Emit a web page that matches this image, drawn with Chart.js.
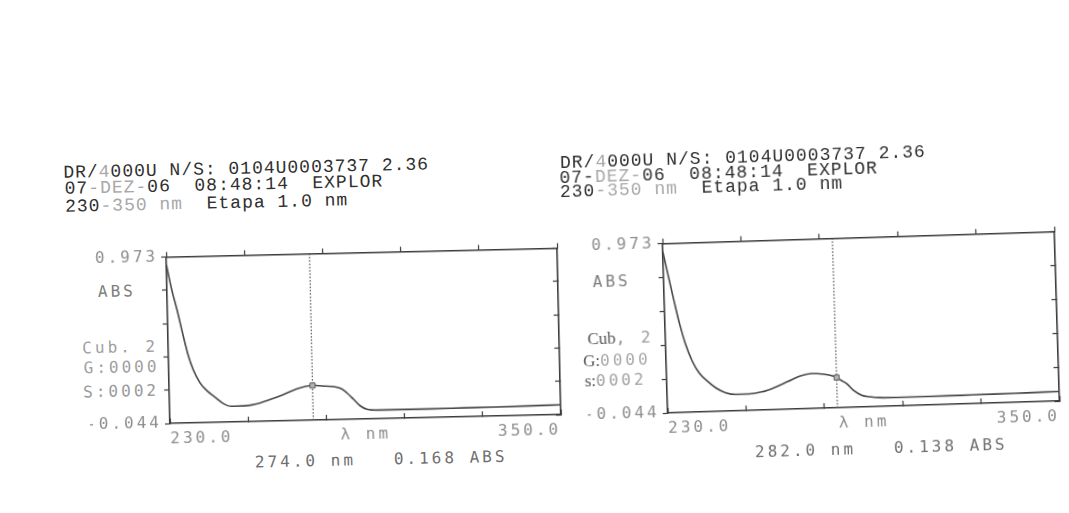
<!DOCTYPE html>
<html>
<head>
<meta charset="utf-8">
<script src="https://cdn.jsdelivr.net/npm/chart.js@4"></script>
<style>
  html, body { margin: 0; padding: 0; background: #ffffff; }
  body { width: 1069px; height: 513px; position: relative; overflow: hidden; }
  .panel { position: absolute; left: 0; top: 0; width: 1069px; height: 513px; }
  .panel canvas { position: absolute; }
  .hdr { position: absolute; font-family: 'Liberation Mono', 'DejaVu Sans Mono', monospace; font-size: 18px;
         letter-spacing: 1px; line-height: 17px; color: #2f2f2f; white-space: pre; }
  .lt { color: #a8a8a8; }
  .lab { position: absolute; font-family: 'DejaVu Sans Mono', monospace; font-size: 16px; letter-spacing: 3px;
         line-height: 20px; color: #8d8d8d; white-space: pre; }
  .ser { font-family: 'Liberation Serif', 'DejaVu Serif', serif; color: #555; letter-spacing: 0; font-size: 17px; }
  .read { color: #6f6f6f; }
</style>
</head>
<body>

<div class="panel" id="panelA" style="transform-origin: 364px 334px; transform: rotate(-1.3deg);">
  <div class="hdr" style="left:67px; top:158px;">DR/<span class="lt">4</span>000U N/S: 0104U0003737 2.36</div>
  <div class="hdr" style="left:68px; top:174px;">07<span class="lt">-DEZ-</span>06  08:48:14  EXPLOR</div>
  <div class="hdr" style="left:68px; top:192px;">230<span class="lt">-350 nm</span>  Etapa 1.0 nm</div>
  <div class="lab" style="left:99px; top:276px; color:#7d7d7d;">ABS</div>
  <div class="lab" style="left:82px; top:332px; color:#a0a0a0;">Cub. 2</div>
  <div class="lab" style="left:83px; top:352px; color:#a0a0a0;">G:0000</div>
  <div class="lab" style="left:82px; top:376px; color:#9a9a9a;">S:0002</div>
  <div class="lab read" id="readA" style="left:252px; top:450px;"></div>
  <canvas id="chartA" width="482" height="219" style="left:88px; top:240px;"></canvas>
</div>

<div class="panel" id="panelB" style="transform-origin: 861px 321px; transform: rotate(-1.75deg);">
  <div class="hdr" style="left:565px; top:146px;">DR/<span class="lt">4</span>000U N/S: 0104U0003737 2.36</div>
  <div class="hdr" style="left:564px; top:161px;">07-<span class="lt">DEZ-</span>06  08:48:14  EXPLOR</div>
  <div class="hdr" style="left:564px; top:175px;">230<span class="lt">-350 nm</span>  Etapa 1.0 nm</div>
  <div class="lab" style="left:594px; top:264px; color:#7d7d7d;">ABS</div>
  <div class="lab" style="left:587px; top:321px;"><span class="ser">Cub</span>, <span style="color:#9a9a9a">2</span></div>
  <div class="lab" style="left:582px; top:343px;"><span class="ser">G:</span><span style="color:#a8a8a8">0000</span></div>
  <div class="lab" style="left:583px; top:363px;"><span class="ser">s:</span><span style="color:#a0a0a0">0002</span></div>
  <div class="lab read" id="readB" style="left:751px; top:439px;"></div>
  <canvas id="chartB" width="483" height="222" style="left:585px; top:225px;"></canvas>
</div>

<script>
// ---------- data ----------
const yMin = -0.044;
const yMax = 0.973;
const yTickValues = [-0.044, 0.1594, 0.3628, 0.5662, 0.7696, 0.973];
const yTickLabels = ['-0.044', '', '', '', '', '0.973'];
const xMin = 230;
const xMax = 350;
const xTickValues = [230, 254, 278, 290, 302, 326, 350];
const xTickLabels = ['230.0', '', '', 'λ nm', '', '', '350.0'];
const topTickValues = [230, 254, 278, 302, 326, 350];

// left scan (sample A)
const lambdaA = [230, 231.5, 233, 234.5, 236, 237.5, 239.5, 241.5, 244, 246.5, 249, 253, 257, 261, 265, 269, 272, 274,
                 278, 281, 283, 284.5, 286.5, 288.5, 290.5, 294, 300, 310, 320, 330, 340, 350];
const absA    = [0.925, 0.77, 0.645, 0.505, 0.375, 0.281, 0.200, 0.152, 0.110, 0.070, 0.052, 0.053, 0.065, 0.089, 0.117, 0.148, 0.164, 0.168,
                 0.162, 0.156, 0.142, 0.118, 0.078, 0.037, 0.016, 0.009, 0.009, 0.009, 0.010, 0.011, 0.013, 0.016];
const markerNmA = 274.0;
const markerAbsA = 0.168;

// right scan (sample B)
const lambdaB = [230, 231.5, 233, 234.5, 236, 238, 240, 242.5, 245, 248, 251, 255, 259, 263, 267, 271, 274.5, 278, 281, 282,
                 283.5, 285, 287, 289.5, 292, 295, 300, 310, 320, 330, 340, 350];
const absB    = [0.925, 0.773, 0.625, 0.485, 0.372, 0.262, 0.190, 0.138, 0.097, 0.066, 0.055, 0.055, 0.065, 0.090, 0.122, 0.154, 0.166, 0.160, 0.147, 0.138,
                 0.118, 0.100, 0.059, 0.027, 0.016, 0.009, 0.007, 0.007, 0.008, 0.009, 0.011, 0.013];
const markerNmB = 282.0;
const markerAbsB = 0.138;

// ---------- chart construction ----------
const INK = '#3b3b3b';
const LABEL_GREY = '#8d8d8d';
const tickFont = { family: "'DejaVu Sans Mono', monospace", size: 16 };

const spacingPlugin = {
  id: 'spacing',
  beforeDraw(chart) { chart.ctx.letterSpacing = '3px'; }
};

function setTicks(values) {
  return function (scale) { scale.ticks = values.map(v => ({ value: v })); };
}

function makeChart(id, lambdas, abs, markerNm, markerAbs, plotBottomPad) {
  const curve = lambdas.map((x, i) => ({ x: x, y: abs[i] }));
  return new Chart(document.getElementById(id), {
    type: 'line',
    data: {
      datasets: [
        { data: curve, borderColor: '#474747', borderWidth: 1.6, pointRadius: 0,
          cubicInterpolationMode: 'monotone', xAxisID: 'x', yAxisID: 'y', order: 2 },
        { data: [{ x: markerNm, y: yMin }, { x: markerNm, y: yMax }], borderColor: '#505050', borderWidth: 1.2,
          borderDash: [1.5, 1.8], pointRadius: 0, xAxisID: 'x', yAxisID: 'y', order: 3 },
        { data: [{ x: markerNm, y: markerAbs }], showLine: false, pointStyle: 'rect', pointRadius: 3.6,
          pointBackgroundColor: '#b5b5b5', pointBorderColor: '#5a5a5a', pointBorderWidth: 1,
          xAxisID: 'x', yAxisID: 'y', order: 1 }
      ]
    },
    options: {
      responsive: false,
      animation: false,
      devicePixelRatio: 1,
      layout: { padding: 0 },
      plugins: { legend: { display: false }, tooltip: { enabled: false } },
      events: [],
      scales: {
        x: {
          type: 'linear', position: 'bottom', min: xMin, max: xMax,
          afterBuildTicks: setTicks(xTickValues),
          afterFit(s) { s.height = 40; },
          ticks: { autoSkip: false, maxRotation: 0, align: 'inner', padding: plotBottomPad,
                   color: LABEL_GREY, font: tickFont, callback: (v, i) => xTickLabels[i] },
          grid: { drawOnChartArea: false, drawTicks: true, tickLength: -5, tickWidth: 1.2,
                  tickColor: (c) => (c.tick && c.tick.value === 290) ? 'rgba(0,0,0,0)' : INK },
          border: { display: true, color: INK, width: 1.6 }
        },
        x2: {
          type: 'linear', position: 'top', min: xMin, max: xMax,
          afterBuildTicks: setTicks(topTickValues),
          afterFit(s) { s.height = 10; },
          ticks: { display: false },
          grid: { drawOnChartArea: false, drawTicks: true, tickLength: 5, tickWidth: 1.2, tickColor: INK },
          border: { display: true, color: INK, width: 1.6 }
        },
        y: {
          type: 'linear', position: 'left', min: yMin, max: yMax,
          afterBuildTicks: setTicks(yTickValues),
          afterFit(s) { s.width = 80; },
          ticks: { autoSkip: false, padding: 3, color: LABEL_GREY, font: tickFont,
                   callback: (v, i) => yTickLabels[i] },
          grid: { drawOnChartArea: false, drawTicks: true, tickLength: 5, tickWidth: 1.2, tickColor: INK },
          border: { display: true, color: INK, width: 1.6 }
        },
        y2: {
          type: 'linear', position: 'right', min: yMin, max: yMax,
          afterBuildTicks: setTicks(yTickValues),
          afterFit(s) { s.width = 10; },
          ticks: { display: false },
          grid: { drawOnChartArea: false, drawTicks: true, tickLength: -5, tickWidth: 1.2, tickColor: INK },
          border: { display: true, color: INK, width: 1.6 }
        }
      }
    },
    plugins: [spacingPlugin]
  });
}

makeChart('chartA', lambdaA, absA, markerNmA, markerAbsA, 11);
makeChart('chartB', lambdaB, absB, markerNmB, markerAbsB, 11);

document.getElementById('readA').textContent = markerNmA.toFixed(1) + ' nm   ' + markerAbsA.toFixed(3) + ' ABS';
document.getElementById('readB').textContent = markerNmB.toFixed(1) + ' nm   ' + markerAbsB.toFixed(3) + ' ABS';
</script>
</body>
</html>
